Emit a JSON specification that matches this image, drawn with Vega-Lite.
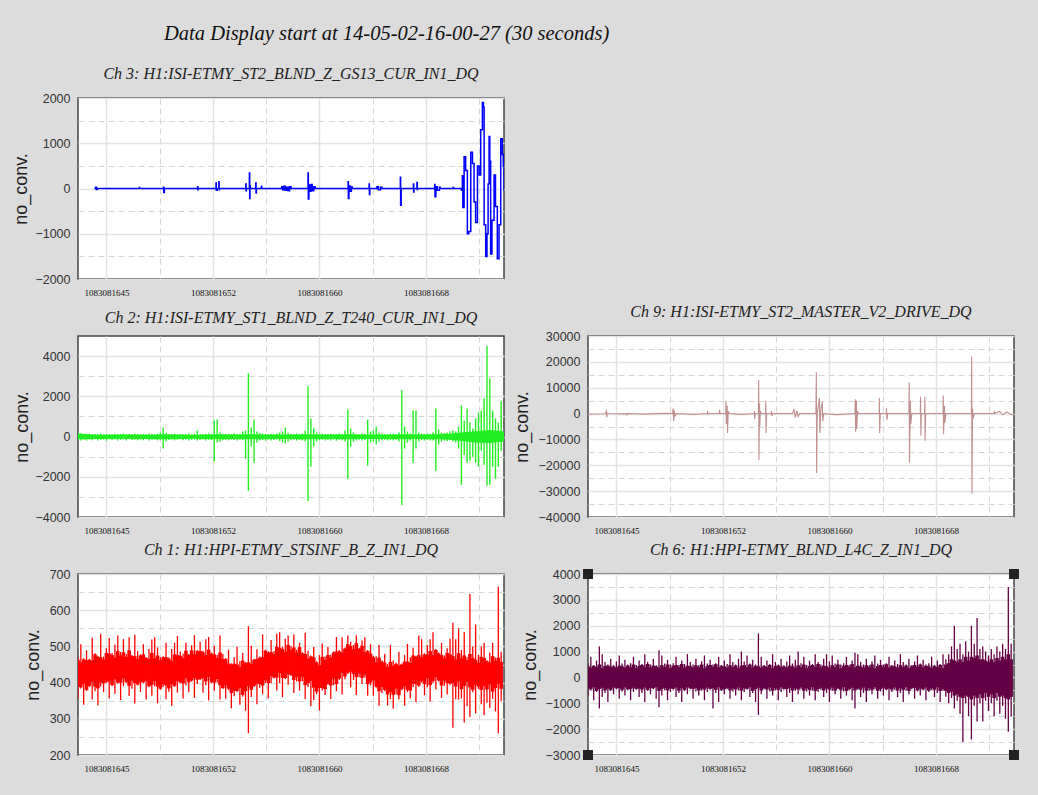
{
"$schema": "https://vega.github.io/schema/vega-lite/v6.json",
"background": "#dcdcdc",
"padding": {"left": 11, "top": 23, "right": 30, "bottom": 24},
"title": {"text": "Data Display start at 14-05-02-16-00-27 (30 seconds)", "fontSize": 20.5, "font": "Liberation Serif", "fontStyle": "italic", "fontWeight": "normal", "color": "#111", "anchor": "start", "frame": "group", "dx": 86, "offset": 21},
"columns": 2,
"bounds": "flush",
"spacing": {"row": 57, "column": 84},
"datasets": {
"ch3": [
{"t":1.15,"v":0},{"t":1.25,"v":30},{"t":1.3,"v":-20},{"t":1.35,"v":0},{"t":4.3,"v":0},{"t":4.32,"v":20},{"t":4.34,"v":0},{"t":6.0,"v":0},{"t":6.02,"v":30},{"t":6.04,"v":-90},{"t":6.08,"v":0},{"t":8.4,"v":0},{"t":8.42,"v":40},{"t":8.44,"v":-30},{"t":8.46,"v":0},{"t":9.7,"v":0},{"t":9.72,"v":120},{"t":9.74,"v":-40},{"t":9.8,"v":0},{"t":9.92,"v":150},{"t":9.94,"v":-30},{"t":9.96,"v":0},{"t":11.8,"v":0},{"t":11.82,"v":100},{"t":11.84,"v":-50},{"t":11.86,"v":0},{"t":12.05,"v":0},{"t":12.07,"v":340},{"t":12.09,"v":-220},{"t":12.11,"v":60},{"t":12.13,"v":0},{"t":12.5,"v":0},{"t":12.52,"v":120},{"t":12.54,"v":-100},{"t":12.56,"v":0},{"t":12.9,"v":0},{"t":12.92,"v":50},{"t":12.94,"v":0},{"t":14.3,"v":0},{"t":14.35,"v":40},{"t":14.4,"v":-30},{"t":14.5,"v":50},{"t":14.6,"v":-40},{"t":14.7,"v":30},{"t":14.8,"v":-50},{"t":14.9,"v":40},{"t":15.0,"v":0},{"t":16.15,"v":0},{"t":16.2,"v":340},{"t":16.22,"v":-230},{"t":16.26,"v":80},{"t":16.3,"v":-60},{"t":16.4,"v":90},{"t":16.5,"v":-50},{"t":16.6,"v":40},{"t":16.7,"v":0},{"t":19.0,"v":0},{"t":19.02,"v":150},{"t":19.04,"v":-220},{"t":19.08,"v":60},{"t":19.15,"v":-60},{"t":19.25,"v":40},{"t":19.3,"v":0},{"t":20.45,"v":0},{"t":20.5,"v":100},{"t":20.52,"v":-130},{"t":20.55,"v":0},{"t":21.0,"v":0},{"t":21.05,"v":40},{"t":21.15,"v":-30},{"t":21.3,"v":30},{"t":21.4,"v":0},{"t":22.65,"v":0},{"t":22.7,"v":250},{"t":22.72,"v":-370},{"t":22.76,"v":0},{"t":23.6,"v":0},{"t":23.62,"v":100},{"t":23.64,"v":-80},{"t":23.66,"v":0},{"t":23.85,"v":0},{"t":23.87,"v":130},{"t":23.89,"v":-20},{"t":23.91,"v":0},{"t":25.1,"v":0},{"t":25.12,"v":90},{"t":25.14,"v":-180},{"t":25.2,"v":40},{"t":25.3,"v":-40},{"t":25.45,"v":30},{"t":25.5,"v":0},{"t":26.4,"v":0},{"t":26.42,"v":20},{"t":26.44,"v":0},{"t":26.95,"v":0},{"t":27.0,"v":-40},{"t":27.04,"v":0},{"t":27.07,"v":280},{"t":27.1,"v":-420},{"t":27.19,"v":700},{"t":27.3,"v":400},{"t":27.42,"v":-1000},{"t":27.52,"v":-950},{"t":27.66,"v":800},{"t":27.78,"v":550},{"t":27.89,"v":-300},{"t":28.0,"v":-750},{"t":28.13,"v":500},{"t":28.25,"v":300},{"t":28.36,"v":1300},{"t":28.48,"v":1900},{"t":28.55,"v":1800},{"t":28.6,"v":-800},{"t":28.71,"v":-1500},{"t":28.8,"v":-1000},{"t":28.88,"v":100},{"t":28.95,"v":1150},{"t":29.0,"v":600},{"t":29.06,"v":-1450},{"t":29.15,"v":-700},{"t":29.3,"v":300},{"t":29.4,"v":-400},{"t":29.53,"v":-1550},{"t":29.65,"v":-800},{"t":29.77,"v":1100},{"t":29.88,"v":750},{"t":29.95,"v":500},{"t":30.0,"v":-50}
],
"ch9": [
{"t":0.0,"v":-200},{"t":1.2,"v":-100},{"t":1.3,"v":1000},{"t":1.32,"v":-1500},{"t":1.36,"v":200},{"t":1.5,"v":0},{"t":2.7,"v":-100},{"t":2.72,"v":-700},{"t":2.75,"v":0},{"t":4.0,"v":-200},{"t":5.5,"v":100},{"t":5.95,"v":0},{"t":6.0,"v":2000},{"t":6.03,"v":-3000},{"t":6.07,"v":1200},{"t":6.12,"v":-1200},{"t":6.2,"v":0},{"t":7.5,"v":-300},{"t":8.4,"v":0},{"t":8.42,"v":1000},{"t":8.44,"v":-200},{"t":8.5,"v":0},{"t":9.25,"v":0},{"t":9.27,"v":1500},{"t":9.3,"v":0},{"t":9.7,"v":0},{"t":9.72,"v":5000},{"t":9.74,"v":-4000},{"t":9.8,"v":3000},{"t":9.83,"v":-7500},{"t":9.87,"v":1000},{"t":9.95,"v":0},{"t":10.8,"v":-300},{"t":11.7,"v":0},{"t":11.72,"v":1000},{"t":11.74,"v":-2000},{"t":11.78,"v":0},{"t":12.0,"v":0},{"t":12.02,"v":13000},{"t":12.04,"v":-18000},{"t":12.08,"v":4000},{"t":12.1,"v":-5000},{"t":12.14,"v":1000},{"t":12.2,"v":0},{"t":12.5,"v":0},{"t":12.52,"v":5000},{"t":12.54,"v":-7500},{"t":12.58,"v":0},{"t":12.9,"v":0},{"t":12.92,"v":1000},{"t":12.95,"v":-1000},{"t":13.0,"v":0},{"t":14.4,"v":0},{"t":14.5,"v":1500},{"t":14.6,"v":-1500},{"t":14.7,"v":1000},{"t":14.8,"v":-1200},{"t":14.9,"v":0},{"t":16.05,"v":0},{"t":16.08,"v":16000},{"t":16.1,"v":-23000},{"t":16.14,"v":0},{"t":16.3,"v":6000},{"t":16.33,"v":-7500},{"t":16.4,"v":1500},{"t":16.5,"v":4500},{"t":16.53,"v":-3000},{"t":16.6,"v":0},{"t":17.5,"v":-400},{"t":18.8,"v":0},{"t":18.82,"v":5500},{"t":18.85,"v":-7000},{"t":18.9,"v":5000},{"t":18.93,"v":-6000},{"t":18.98,"v":1000},{"t":19.05,"v":0},{"t":20.5,"v":0},{"t":20.52,"v":6000},{"t":20.54,"v":-7500},{"t":20.58,"v":0},{"t":21.0,"v":0},{"t":21.02,"v":2000},{"t":21.05,"v":-2500},{"t":21.1,"v":0},{"t":22.6,"v":0},{"t":22.62,"v":12000},{"t":22.64,"v":-19000},{"t":22.7,"v":5000},{"t":22.73,"v":-4000},{"t":22.8,"v":0},{"t":23.4,"v":0},{"t":23.42,"v":6500},{"t":23.44,"v":-8500},{"t":23.48,"v":0},{"t":23.7,"v":0},{"t":23.72,"v":6500},{"t":23.74,"v":-10500},{"t":23.78,"v":0},{"t":25.0,"v":0},{"t":25.02,"v":7000},{"t":25.04,"v":-8000},{"t":25.1,"v":3000},{"t":25.13,"v":-3500},{"t":25.2,"v":0},{"t":27.0,"v":0},{"t":27.02,"v":22000},{"t":27.04,"v":-31000},{"t":27.08,"v":2000},{"t":27.12,"v":-2000},{"t":27.2,"v":0},{"t":28.6,"v":0},{"t":28.62,"v":1000},{"t":28.65,"v":0},{"t":29.0,"v":800},{"t":29.2,"v":-500},{"t":29.5,"v":600},{"t":29.8,"v":-400},{"t":30.0,"v":-300}
],
"ch2core": [
{"t":0,"lo":-130,"hi":150},{"t":1,"lo":-120,"hi":100},{"t":2,"lo":-125,"hi":95},{"t":3,"lo":-115,"hi":105},{"t":4,"lo":-120,"hi":100},{"t":5,"lo":-125,"hi":95},{"t":6,"lo":-130,"hi":110},{"t":7,"lo":-120,"hi":100},{"t":8,"lo":-115,"hi":95},{"t":9,"lo":-120,"hi":100},{"t":10,"lo":-130,"hi":110},{"t":11,"lo":-120,"hi":100},{"t":12,"lo":-140,"hi":120},{"t":13,"lo":-125,"hi":100},{"t":14,"lo":-120,"hi":105},{"t":15,"lo":-120,"hi":100},{"t":16,"lo":-140,"hi":120},{"t":17,"lo":-125,"hi":100},{"t":18,"lo":-120,"hi":100},{"t":19,"lo":-135,"hi":115},{"t":20,"lo":-120,"hi":100},{"t":21,"lo":-125,"hi":105},{"t":22,"lo":-120,"hi":100},{"t":23,"lo":-135,"hi":115},{"t":24,"lo":-120,"hi":100},{"t":25,"lo":-130,"hi":110},{"t":26,"lo":-150,"hi":130},{"t":27,"lo":-220,"hi":200},{"t":28,"lo":-300,"hi":260},{"t":29,"lo":-320,"hi":320},{"t":30,"lo":-250,"hi":250}
],
"ch2": [
{"t":0.0,"lo":-170,"hi":180},{"t":0.2,"lo":-190,"hi":170},{"t":0.4,"lo":-160,"hi":130},{"t":0.6,"lo":-200,"hi":110},{"t":0.8,"lo":-150,"hi":140},{"t":1.0,"lo":-180,"hi":100},{"t":1.2,"lo":-140,"hi":120},{"t":1.4,"lo":-190,"hi":110},{"t":1.6,"lo":-160,"hi":150},{"t":1.8,"lo":-150,"hi":100},{"t":2.0,"lo":-200,"hi":120},{"t":2.2,"lo":-140,"hi":130},{"t":2.4,"lo":-170,"hi":100},{"t":2.6,"lo":-150,"hi":140},{"t":2.8,"lo":-190,"hi":110},{"t":3.0,"lo":-160,"hi":120},{"t":3.2,"lo":-150,"hi":150},{"t":3.4,"lo":-200,"hi":100},{"t":3.6,"lo":-140,"hi":130},{"t":3.8,"lo":-170,"hi":110},{"t":4.0,"lo":-160,"hi":140},{"t":4.2,"lo":-190,"hi":120},{"t":4.4,"lo":-150,"hi":100},{"t":4.6,"lo":-180,"hi":130},{"t":4.8,"lo":-140,"hi":110},{"t":5.0,"lo":-200,"hi":150},{"t":5.2,"lo":-160,"hi":120},{"t":5.4,"lo":-150,"hi":100},{"t":5.6,"lo":-190,"hi":140},{"t":5.8,"lo":-170,"hi":200},{"t":6.0,"lo":-600,"hi":450},{"t":6.2,"lo":-250,"hi":180},{"t":6.4,"lo":-170,"hi":120},{"t":6.6,"lo":-150,"hi":110},{"t":6.8,"lo":-190,"hi":140},{"t":7.0,"lo":-160,"hi":100},{"t":7.2,"lo":-140,"hi":130},{"t":7.4,"lo":-180,"hi":120},{"t":7.6,"lo":-150,"hi":110},{"t":7.8,"lo":-200,"hi":150},{"t":8.0,"lo":-160,"hi":100},{"t":8.2,"lo":-150,"hi":140},{"t":8.4,"lo":-200,"hi":300},{"t":8.6,"lo":-170,"hi":120},{"t":8.8,"lo":-150,"hi":110},{"t":9.0,"lo":-190,"hi":130},{"t":9.2,"lo":-160,"hi":150},{"t":9.4,"lo":-180,"hi":120},{"t":9.6,"lo":-1230,"hi":800},{"t":9.8,"lo":-300,"hi":850},{"t":10.0,"lo":-250,"hi":200},{"t":10.2,"lo":-180,"hi":130},{"t":10.4,"lo":-160,"hi":110},{"t":10.6,"lo":-190,"hi":140},{"t":10.8,"lo":-150,"hi":120},{"t":11.0,"lo":-170,"hi":160},{"t":11.2,"lo":-200,"hi":130},{"t":11.4,"lo":-160,"hi":110},{"t":11.6,"lo":-180,"hi":250},{"t":11.8,"lo":-1100,"hi":300},{"t":12.0,"lo":-2700,"hi":3150},{"t":12.2,"lo":-500,"hi":450},{"t":12.4,"lo":-1300,"hi":850},{"t":12.6,"lo":-300,"hi":250},{"t":12.8,"lo":-200,"hi":180},{"t":13.0,"lo":-180,"hi":150},{"t":13.2,"lo":-200,"hi":130},{"t":13.4,"lo":-160,"hi":120},{"t":13.6,"lo":-190,"hi":140},{"t":13.8,"lo":-170,"hi":110},{"t":14.0,"lo":-150,"hi":150},{"t":14.2,"lo":-220,"hi":200},{"t":14.4,"lo":-300,"hi":250},{"t":14.6,"lo":-350,"hi":450},{"t":14.8,"lo":-250,"hi":180},{"t":15.0,"lo":-180,"hi":130},{"t":15.2,"lo":-160,"hi":120},{"t":15.4,"lo":-200,"hi":150},{"t":15.6,"lo":-170,"hi":110},{"t":15.8,"lo":-190,"hi":140},{"t":16.0,"lo":-250,"hi":300},{"t":16.2,"lo":-3200,"hi":2500},{"t":16.4,"lo":-1500,"hi":900},{"t":16.6,"lo":-500,"hi":400},{"t":16.8,"lo":-250,"hi":200},{"t":17.0,"lo":-180,"hi":130},{"t":17.2,"lo":-160,"hi":150},{"t":17.4,"lo":-200,"hi":120},{"t":17.6,"lo":-170,"hi":110},{"t":17.8,"lo":-190,"hi":140},{"t":18.0,"lo":-150,"hi":130},{"t":18.2,"lo":-200,"hi":120},{"t":18.4,"lo":-160,"hi":150},{"t":18.6,"lo":-180,"hi":110},{"t":18.8,"lo":-250,"hi":300},{"t":19.0,"lo":-2100,"hi":1350},{"t":19.2,"lo":-500,"hi":400},{"t":19.4,"lo":-250,"hi":200},{"t":19.6,"lo":-180,"hi":130},{"t":19.8,"lo":-160,"hi":120},{"t":20.0,"lo":-200,"hi":150},{"t":20.2,"lo":-170,"hi":130},{"t":20.4,"lo":-1450,"hi":850},{"t":20.6,"lo":-300,"hi":250},{"t":20.8,"lo":-250,"hi":300},{"t":21.0,"lo":-400,"hi":500},{"t":21.2,"lo":-250,"hi":200},{"t":21.4,"lo":-180,"hi":150},{"t":21.6,"lo":-160,"hi":130},{"t":21.8,"lo":-200,"hi":120},{"t":22.0,"lo":-170,"hi":150},{"t":22.2,"lo":-190,"hi":140},{"t":22.4,"lo":-160,"hi":130},{"t":22.6,"lo":-250,"hi":200},{"t":22.8,"lo":-3400,"hi":2300},{"t":23.0,"lo":-600,"hi":500},{"t":23.2,"lo":-300,"hi":250},{"t":23.4,"lo":-200,"hi":150},{"t":23.6,"lo":-1300,"hi":1300},{"t":23.8,"lo":-600,"hi":1300},{"t":24.0,"lo":-250,"hi":200},{"t":24.2,"lo":-180,"hi":150},{"t":24.4,"lo":-200,"hi":130},{"t":24.6,"lo":-160,"hi":150},{"t":24.8,"lo":-190,"hi":140},{"t":25.0,"lo":-200,"hi":200},{"t":25.2,"lo":-1700,"hi":1400},{"t":25.4,"lo":-400,"hi":350},{"t":25.6,"lo":-250,"hi":200},{"t":25.8,"lo":-200,"hi":180},{"t":26.0,"lo":-220,"hi":200},{"t":26.2,"lo":-180,"hi":250},{"t":26.4,"lo":-250,"hi":300},{"t":26.6,"lo":-300,"hi":250},{"t":26.8,"lo":-600,"hi":500},{"t":27.0,"lo":-2400,"hi":1550},{"t":27.2,"lo":-900,"hi":800},{"t":27.4,"lo":-1300,"hi":1400},{"t":27.6,"lo":-1200,"hi":700},{"t":27.8,"lo":-1000,"hi":400},{"t":28.0,"lo":-1300,"hi":900},{"t":28.2,"lo":-1500,"hi":1200},{"t":28.4,"lo":-700,"hi":1300},{"t":28.6,"lo":-1400,"hi":1900},{"t":28.8,"lo":-2450,"hi":4500},{"t":29.0,"lo":-2400,"hi":2900},{"t":29.2,"lo":-1500,"hi":1300},{"t":29.4,"lo":-2100,"hi":900},{"t":29.6,"lo":-1500,"hi":700},{"t":29.8,"lo":-700,"hi":1750}
],
"ch1": [
{"t":0.0,"lo":355,"hi":470,"a":390,"b":463},{"t":0.2,"lo":384,"hi":506,"a":387,"b":456},{"t":0.4,"lo":339,"hi":467,"a":397,"b":464},{"t":0.6,"lo":377,"hi":489,"a":380,"b":462},{"t":0.8,"lo":388,"hi":466,"a":391,"b":463},{"t":1.0,"lo":353,"hi":524,"a":401,"b":461},{"t":1.2,"lo":376,"hi":481,"a":389,"b":478},{"t":1.4,"lo":337,"hi":474,"a":384,"b":471},{"t":1.6,"lo":389,"hi":535,"a":401,"b":470},{"t":1.8,"lo":374,"hi":472,"a":398,"b":464},{"t":2.0,"lo":399,"hi":495,"a":402,"b":482},{"t":2.2,"lo":356,"hi":523,"a":403,"b":480},{"t":2.4,"lo":390,"hi":482,"a":393,"b":476},{"t":2.6,"lo":369,"hi":505,"a":409,"b":469},{"t":2.8,"lo":397,"hi":530,"a":400,"b":487},{"t":3.0,"lo":352,"hi":485,"a":400,"b":475},{"t":3.2,"lo":390,"hi":520,"a":412,"b":484},{"t":3.4,"lo":399,"hi":479,"a":402,"b":471},{"t":3.6,"lo":363,"hi":525,"a":391,"b":489},{"t":3.8,"lo":383,"hi":476,"a":405,"b":473},{"t":4.0,"lo":342,"hi":532,"a":399,"b":473},{"t":4.2,"lo":392,"hi":487,"a":395,"b":465},{"t":4.4,"lo":374,"hi":478,"a":401,"b":475},{"t":4.6,"lo":398,"hi":506,"a":401,"b":478},{"t":4.8,"lo":353,"hi":471,"a":405,"b":468},{"t":5.0,"lo":387,"hi":493,"a":390,"b":465},{"t":5.2,"lo":364,"hi":519,"a":394,"b":482},{"t":5.4,"lo":390,"hi":525,"a":404,"b":467},{"t":5.6,"lo":343,"hi":497,"a":389,"b":475},{"t":5.8,"lo":380,"hi":470,"a":383,"b":462},{"t":6.0,"lo":388,"hi":473,"a":395,"b":470},{"t":6.2,"lo":354,"hi":510,"a":392,"b":470},{"t":6.4,"lo":375,"hi":470,"a":384,"b":466},{"t":6.6,"lo":336,"hi":493,"a":396,"b":459},{"t":6.8,"lo":388,"hi":510,"a":391,"b":478},{"t":7.0,"lo":372,"hi":529,"a":404,"b":476},{"t":7.2,"lo":398,"hi":486,"a":401,"b":474},{"t":7.4,"lo":356,"hi":480,"a":398,"b":468},{"t":7.6,"lo":392,"hi":510,"a":412,"b":488},{"t":7.8,"lo":373,"hi":479,"a":401,"b":476},{"t":8.0,"lo":403,"hi":503,"a":406,"b":489},{"t":8.2,"lo":358,"hi":531,"a":413,"b":478},{"t":8.4,"lo":396,"hi":490,"a":408,"b":487},{"t":8.6,"lo":407,"hi":513,"a":410,"b":487},{"t":8.8,"lo":372,"hi":488,"a":413,"b":484},{"t":9.0,"lo":393,"hi":520,"a":403,"b":476},{"t":9.2,"lo":351,"hi":526,"a":416,"b":491},{"t":9.4,"lo":398,"hi":483,"a":401,"b":480},{"t":9.6,"lo":378,"hi":502,"a":400,"b":478},{"t":9.8,"lo":400,"hi":476,"a":410,"b":468},{"t":10.0,"lo":353,"hi":530,"a":393,"b":483},{"t":10.2,"lo":382,"hi":480,"a":385,"b":465},{"t":10.4,"lo":356,"hi":468,"a":393,"b":465},{"t":10.6,"lo":379,"hi":491,"a":383,"b":453},{"t":10.8,"lo":329,"hi":453,"a":371,"b":450},{"t":11.0,"lo":362,"hi":470,"a":377,"b":452},{"t":11.2,"lo":374,"hi":499,"a":377,"b":450},{"t":11.4,"lo":339,"hi":459,"a":385,"b":443},{"t":11.6,"lo":361,"hi":482,"a":366,"b":461},{"t":11.8,"lo":322,"hi":457,"a":377,"b":454},{"t":12.0,"lo":260,"hi":556,"a":390,"b":456},{"t":12.2,"lo":360,"hi":502,"a":380,"b":452},{"t":12.4,"lo":388,"hi":466,"a":391,"b":463},{"t":12.6,"lo":340,"hi":492,"a":397,"b":465},{"t":12.8,"lo":386,"hi":472,"a":396,"b":469},{"t":13.0,"lo":368,"hi":533,"a":392,"b":470},{"t":13.2,"lo":399,"hi":491,"a":406,"b":488},{"t":13.4,"lo":356,"hi":486,"a":399,"b":483},{"t":13.6,"lo":398,"hi":518,"a":418,"b":484},{"t":13.8,"lo":411,"hi":487,"a":414,"b":479},{"t":14.0,"lo":378,"hi":535,"a":414,"b":499},{"t":14.2,"lo":399,"hi":539,"a":426,"b":496},{"t":14.4,"lo":360,"hi":499,"a":413,"b":493},{"t":14.6,"lo":410,"hi":521,"a":413,"b":485},{"t":14.8,"lo":394,"hi":530,"a":423,"b":504},{"t":15.0,"lo":418,"hi":501,"a":421,"b":491},{"t":15.2,"lo":371,"hi":533,"a":407,"b":497},{"t":15.4,"lo":403,"hi":491,"a":416,"b":483},{"t":15.6,"lo":378,"hi":510,"a":403,"b":498},{"t":15.8,"lo":404,"hi":484,"a":416,"b":481},{"t":16.0,"lo":355,"hi":538,"a":393,"b":479},{"t":16.2,"lo":388,"hi":488,"a":398,"b":466},{"t":16.4,"lo":335,"hi":475,"a":405,"b":472},{"t":16.6,"lo":352,"hi":498,"a":386,"b":470},{"t":16.8,"lo":368,"hi":459,"a":375,"b":456},{"t":17.0,"lo":323,"hi":476,"a":385,"b":448},{"t":17.2,"lo":378,"hi":508,"a":385,"b":471},{"t":17.4,"lo":366,"hi":472,"a":382,"b":463},{"t":17.6,"lo":394,"hi":498,"a":397,"b":476},{"t":17.8,"lo":355,"hi":477,"a":392,"b":469},{"t":18.0,"lo":393,"hi":486,"a":411,"b":483},{"t":18.2,"lo":376,"hi":526,"a":396,"b":486},{"t":18.4,"lo":408,"hi":490,"a":411,"b":486},{"t":18.6,"lo":367,"hi":525,"a":427,"b":483},{"t":18.8,"lo":409,"hi":497,"a":417,"b":494},{"t":19.0,"lo":424,"hi":530,"a":427,"b":506},{"t":19.2,"lo":387,"hi":513,"a":430,"b":501},{"t":19.4,"lo":407,"hi":504,"a":424,"b":492},{"t":19.6,"lo":366,"hi":531,"a":415,"b":509},{"t":19.8,"lo":415,"hi":496,"a":425,"b":493},{"t":20.0,"lo":396,"hi":516,"a":413,"b":502},{"t":20.2,"lo":414,"hi":525,"a":422,"b":484},{"t":20.4,"lo":364,"hi":490,"a":396,"b":487},{"t":20.6,"lo":392,"hi":506,"a":400,"b":480},{"t":20.8,"lo":364,"hi":474,"a":406,"b":470},{"t":21.0,"lo":386,"hi":473,"a":389,"b":456},{"t":21.2,"lo":336,"hi":504,"a":376,"b":469},{"t":21.4,"lo":371,"hi":461,"a":388,"b":458},{"t":21.6,"lo":377,"hi":479,"a":380,"b":455},{"t":21.8,"lo":337,"hi":451,"a":367,"b":443},{"t":22.0,"lo":354,"hi":504,"a":374,"b":457},{"t":22.2,"lo":328,"hi":461,"a":366,"b":446},{"t":22.4,"lo":368,"hi":455,"a":383,"b":452},{"t":22.6,"lo":353,"hi":485,"a":365,"b":447},{"t":22.8,"lo":379,"hi":453,"a":382,"b":450},{"t":23.0,"lo":336,"hi":476,"a":390,"b":458},{"t":23.2,"lo":374,"hi":507,"a":380,"b":458},{"t":23.4,"lo":356,"hi":470,"a":378,"b":454},{"t":23.6,"lo":388,"hi":496,"a":397,"b":475},{"t":23.8,"lo":346,"hi":474,"a":396,"b":471},{"t":24.0,"lo":388,"hi":530,"a":392,"b":476},{"t":24.2,"lo":400,"hi":520,"a":405,"b":470},{"t":24.4,"lo":365,"hi":481,"a":396,"b":478},{"t":24.6,"lo":387,"hi":504,"a":412,"b":477},{"t":24.8,"lo":348,"hi":520,"a":393,"b":487},{"t":25.0,"lo":399,"hi":539,"a":404,"b":476},{"t":25.2,"lo":381,"hi":493,"a":415,"b":490},{"t":25.4,"lo":403,"hi":483,"a":406,"b":480},{"t":25.6,"lo":358,"hi":510,"a":392,"b":476},{"t":25.8,"lo":391,"hi":475,"a":406,"b":467},{"t":26.0,"lo":367,"hi":495,"a":399,"b":482},{"t":26.2,"lo":394,"hi":521,"a":397,"b":478},{"t":26.4,"lo":275,"hi":565,"a":400,"b":473},{"t":26.6,"lo":354,"hi":520,"a":389,"b":464},{"t":26.8,"lo":353,"hi":550,"a":403,"b":481},{"t":27.0,"lo":356,"hi":490,"a":382,"b":467},{"t":27.2,"lo":290,"hi":540,"a":391,"b":475},{"t":27.4,"lo":335,"hi":470,"a":402,"b":462},{"t":27.6,"lo":305,"hi":645,"a":387,"b":479},{"t":27.8,"lo":373,"hi":500,"a":380,"b":468},{"t":28.0,"lo":315,"hi":560,"a":394,"b":463},{"t":28.2,"lo":382,"hi":477,"a":389,"b":455},{"t":28.4,"lo":340,"hi":500,"a":380,"b":471},{"t":28.6,"lo":310,"hi":510,"a":391,"b":468},{"t":28.8,"lo":344,"hi":462,"a":381,"b":459},{"t":29.0,"lo":330,"hi":483,"a":395,"b":455},{"t":29.2,"lo":355,"hi":510,"a":375,"b":473},{"t":29.4,"lo":320,"hi":469,"a":385,"b":460},{"t":29.6,"lo":260,"hi":665,"a":397,"b":469},{"t":29.8,"lo":350,"hi":485,"a":383,"b":457}
],
"ch6": [
{"t":0.0,"lo":-700,"hi":550,"a":-420,"b":430},{"t":0.2,"lo":-500,"hi":800,"a":-460,"b":380},{"t":0.4,"lo":-880,"hi":480,"a":-380,"b":440},{"t":0.6,"lo":-560,"hi":650,"a":-520,"b":400},{"t":0.8,"lo":-1200,"hi":1200,"a":-450,"b":500},{"t":1.0,"lo":-760,"hi":900,"a":-400,"b":360},{"t":1.2,"lo":-600,"hi":600,"a":-500,"b":440},{"t":1.4,"lo":-950,"hi":500,"a":-430,"b":460},{"t":1.6,"lo":-520,"hi":720,"a":-480,"b":410},{"t":1.8,"lo":-650,"hi":470,"a":-390,"b":430},{"t":2.0,"lo":-460,"hi":620,"a":-420,"b":390},{"t":2.2,"lo":-820,"hi":850,"a":-420,"b":450},{"t":2.4,"lo":-540,"hi":540,"a":-480,"b":430},{"t":2.6,"lo":-700,"hi":680,"a":-380,"b":380},{"t":2.8,"lo":-500,"hi":500,"a":-460,"b":460},{"t":3.0,"lo":-880,"hi":550,"a":-450,"b":400},{"t":3.2,"lo":-560,"hi":800,"a":-400,"b":500},{"t":3.4,"lo":-480,"hi":480,"a":-440,"b":360},{"t":3.6,"lo":-760,"hi":650,"a":-430,"b":440},{"t":3.8,"lo":-600,"hi":520,"a":-470,"b":480},{"t":4.0,"lo":-950,"hi":900,"a":-390,"b":410},{"t":4.2,"lo":-520,"hi":600,"a":-480,"b":520},{"t":4.4,"lo":-650,"hi":500,"a":-420,"b":390},{"t":4.6,"lo":-460,"hi":720,"a":-420,"b":450},{"t":4.8,"lo":-820,"hi":470,"a":-380,"b":430},{"t":5.0,"lo":-1150,"hi":1050,"a":-520,"b":380},{"t":5.2,"lo":-700,"hi":850,"a":-450,"b":470},{"t":5.4,"lo":-500,"hi":540,"a":-400,"b":400},{"t":5.6,"lo":-880,"hi":680,"a":-500,"b":500},{"t":5.8,"lo":-560,"hi":500,"a":-430,"b":360},{"t":6.0,"lo":-480,"hi":550,"a":-440,"b":440},{"t":6.2,"lo":-760,"hi":800,"a":-390,"b":480},{"t":6.4,"lo":-600,"hi":480,"a":-510,"b":410},{"t":6.6,"lo":-950,"hi":650,"a":-420,"b":520},{"t":6.8,"lo":-520,"hi":520,"a":-480,"b":390},{"t":7.0,"lo":-650,"hi":900,"a":-380,"b":450},{"t":7.2,"lo":-460,"hi":600,"a":-420,"b":430},{"t":7.4,"lo":-820,"hi":500,"a":-450,"b":380},{"t":7.6,"lo":-540,"hi":720,"a":-400,"b":470},{"t":7.8,"lo":-700,"hi":470,"a":-500,"b":400},{"t":8.0,"lo":-500,"hi":620,"a":-430,"b":500},{"t":8.2,"lo":-880,"hi":850,"a":-470,"b":360},{"t":8.4,"lo":-560,"hi":540,"a":-390,"b":440},{"t":8.6,"lo":-480,"hi":680,"a":-440,"b":480},{"t":8.8,"lo":-1200,"hi":500,"a":-420,"b":410},{"t":9.0,"lo":-600,"hi":550,"a":-480,"b":510},{"t":9.2,"lo":-950,"hi":800,"a":-380,"b":390},{"t":9.4,"lo":-520,"hi":480,"a":-480,"b":440},{"t":9.6,"lo":-650,"hi":650,"a":-450,"b":430},{"t":9.8,"lo":-460,"hi":520,"a":-400,"b":380},{"t":10.0,"lo":-820,"hi":900,"a":-500,"b":470},{"t":10.2,"lo":-540,"hi":600,"a":-430,"b":400},{"t":10.4,"lo":-700,"hi":500,"a":-470,"b":460},{"t":10.6,"lo":-500,"hi":720,"a":-390,"b":360},{"t":10.8,"lo":-880,"hi":1000,"a":-510,"b":440},{"t":11.0,"lo":-560,"hi":620,"a":-420,"b":480},{"t":11.2,"lo":-480,"hi":850,"a":-440,"b":410},{"t":11.4,"lo":-760,"hi":540,"a":-380,"b":500},{"t":11.6,"lo":-600,"hi":680,"a":-520,"b":390},{"t":11.8,"lo":-950,"hi":500,"a":-450,"b":450},{"t":12.0,"lo":-1450,"hi":1700,"a":-400,"b":430},{"t":12.2,"lo":-650,"hi":800,"a":-500,"b":380},{"t":12.4,"lo":-460,"hi":480,"a":-420,"b":440},{"t":12.6,"lo":-820,"hi":650,"a":-470,"b":400},{"t":12.8,"lo":-540,"hi":520,"a":-390,"b":480},{"t":13.0,"lo":-700,"hi":900,"a":-510,"b":360},{"t":13.2,"lo":-500,"hi":600,"a":-420,"b":440},{"t":13.4,"lo":-880,"hi":500,"a":-480,"b":460},{"t":13.6,"lo":-560,"hi":720,"a":-380,"b":410},{"t":13.8,"lo":-480,"hi":470,"a":-440,"b":430},{"t":14.0,"lo":-760,"hi":620,"a":-450,"b":390},{"t":14.2,"lo":-600,"hi":850,"a":-400,"b":450},{"t":14.4,"lo":-950,"hi":540,"a":-500,"b":430},{"t":14.6,"lo":-520,"hi":680,"a":-430,"b":380},{"t":14.8,"lo":-650,"hi":1000,"a":-470,"b":470},{"t":15.0,"lo":-460,"hi":550,"a":-390,"b":400},{"t":15.2,"lo":-820,"hi":800,"a":-510,"b":500},{"t":15.4,"lo":-540,"hi":480,"a":-420,"b":360},{"t":15.6,"lo":-700,"hi":650,"a":-480,"b":440},{"t":15.8,"lo":-500,"hi":520,"a":-380,"b":480},{"t":16.0,"lo":-880,"hi":900,"a":-520,"b":410},{"t":16.2,"lo":-560,"hi":600,"a":-450,"b":520},{"t":16.4,"lo":-480,"hi":500,"a":-400,"b":390},{"t":16.6,"lo":-760,"hi":720,"a":-500,"b":450},{"t":16.8,"lo":-600,"hi":900,"a":-430,"b":430},{"t":17.0,"lo":-950,"hi":620,"a":-470,"b":380},{"t":17.2,"lo":-520,"hi":850,"a":-390,"b":470},{"t":17.4,"lo":-650,"hi":540,"a":-510,"b":400},{"t":17.6,"lo":-460,"hi":680,"a":-420,"b":500},{"t":17.8,"lo":-820,"hi":500,"a":-480,"b":360},{"t":18.0,"lo":-540,"hi":550,"a":-380,"b":440},{"t":18.2,"lo":-700,"hi":800,"a":-520,"b":480},{"t":18.4,"lo":-500,"hi":480,"a":-450,"b":410},{"t":18.6,"lo":-880,"hi":650,"a":-400,"b":520},{"t":18.8,"lo":-1200,"hi":950,"a":-500,"b":390},{"t":19.0,"lo":-480,"hi":900,"a":-430,"b":450},{"t":19.2,"lo":-760,"hi":600,"a":-470,"b":430},{"t":19.4,"lo":-600,"hi":500,"a":-390,"b":380},{"t":19.6,"lo":-950,"hi":720,"a":-510,"b":470},{"t":19.8,"lo":-520,"hi":470,"a":-420,"b":400},{"t":20.0,"lo":-650,"hi":620,"a":-480,"b":500},{"t":20.2,"lo":-460,"hi":850,"a":-380,"b":360},{"t":20.4,"lo":-820,"hi":540,"a":-520,"b":440},{"t":20.6,"lo":-540,"hi":680,"a":-450,"b":480},{"t":20.8,"lo":-700,"hi":500,"a":-400,"b":410},{"t":21.0,"lo":-500,"hi":550,"a":-460,"b":510},{"t":21.2,"lo":-880,"hi":800,"a":-430,"b":390},{"t":21.4,"lo":-560,"hi":480,"a":-470,"b":440},{"t":21.6,"lo":-480,"hi":650,"a":-390,"b":430},{"t":21.8,"lo":-760,"hi":520,"a":-510,"b":380},{"t":22.0,"lo":-600,"hi":900,"a":-420,"b":470},{"t":22.2,"lo":-950,"hi":600,"a":-480,"b":400},{"t":22.4,"lo":-520,"hi":500,"a":-380,"b":460},{"t":22.6,"lo":-650,"hi":720,"a":-520,"b":360},{"t":22.8,"lo":-460,"hi":470,"a":-420,"b":430},{"t":23.0,"lo":-820,"hi":620,"a":-400,"b":480},{"t":23.2,"lo":-540,"hi":850,"a":-500,"b":410},{"t":23.4,"lo":-700,"hi":540,"a":-430,"b":500},{"t":23.6,"lo":-500,"hi":680,"a":-460,"b":390},{"t":23.8,"lo":-880,"hi":500,"a":-390,"b":450},{"t":24.0,"lo":-560,"hi":550,"a":-510,"b":430},{"t":24.2,"lo":-480,"hi":800,"a":-420,"b":380},{"t":24.4,"lo":-760,"hi":480,"a":-480,"b":440},{"t":24.6,"lo":-600,"hi":650,"a":-380,"b":400},{"t":24.8,"lo":-950,"hi":520,"a":-520,"b":480},{"t":25.0,"lo":-520,"hi":900,"a":-450,"b":360},{"t":25.2,"lo":-750,"hi":700,"a":-520,"b":500},{"t":25.4,"lo":-1000,"hi":900,"a":-600,"b":550},{"t":25.6,"lo":-800,"hi":1200,"a":-550,"b":700},{"t":25.8,"lo":-1200,"hi":2000,"a":-700,"b":650},{"t":26.0,"lo":-900,"hi":1100,"a":-650,"b":600},{"t":26.2,"lo":-1400,"hi":1300,"a":-750,"b":700},{"t":26.4,"lo":-2500,"hi":900,"a":-800,"b":600},{"t":26.6,"lo":-1000,"hi":1400,"a":-700,"b":800},{"t":26.8,"lo":-1500,"hi":1000,"a":-750,"b":650},{"t":27.0,"lo":-2400,"hi":2000,"a":-850,"b":800},{"t":27.2,"lo":-1100,"hi":1300,"a":-700,"b":750},{"t":27.4,"lo":-1700,"hi":2300,"a":-800,"b":850},{"t":27.6,"lo":-1000,"hi":1100,"a":-650,"b":700},{"t":27.8,"lo":-1700,"hi":1200,"a":-800,"b":700},{"t":28.0,"lo":-900,"hi":1000,"a":-600,"b":650},{"t":28.2,"lo":-1300,"hi":850,"a":-750,"b":600},{"t":28.4,"lo":-1000,"hi":1100,"a":-650,"b":700},{"t":28.6,"lo":-1500,"hi":900,"a":-800,"b":600},{"t":28.8,"lo":-900,"hi":1200,"a":-600,"b":750},{"t":29.0,"lo":-1400,"hi":1000,"a":-750,"b":650},{"t":29.2,"lo":-1100,"hi":1300,"a":-700,"b":800},{"t":29.4,"lo":-1600,"hi":1100,"a":-800,"b":700},{"t":29.6,"lo":-2100,"hi":3500,"a":-850,"b":900},{"t":29.8,"lo":-1500,"hi":1300,"a":-750,"b":700}
],
"corners": [{"t":0,"v":4000},{"t":30,"v":4000},{"t":0,"v":-3000},{"t":30,"v":-3000}]
},
"concat": [
{
"width": 426, "height": 181,
"title": "Ch 3: H1:ISI-ETMY_ST2_BLND_Z_GS13_CUR_IN1_DQ",
"data": {"name": "ch3"},
"mark": {"type": "line", "color": "#0000ff", "strokeWidth": 1.5, "interpolate": "step-after", "clip": true},
"encoding": {
"x": {"field": "t", "type": "quantitative", "scale": {"domain": [0, 30], "nice": false, "zero": false}, "axis": {"title": null, "values": [2, 5.75, 9.5, 13.25, 17, 20.75, 24.5, 28.25], "labelExpr": "datum.value == 2 ? '1083081645' : datum.value == 9.5 ? '1083081652' : datum.value == 17 ? '1083081660' : datum.value == 24.5 ? '1083081668' : ''", "gridDash": {"condition": {"test": "(datum.value - 2) % 7.5 != 0", "value": [6, 4]}, "value": []}, "gridColor": {"condition": {"test": "(datum.value - 2) % 7.5 != 0", "value": "#d6d6d6"}, "value": "#e3e3e3"}, "gridWidth": {"condition": {"test": "(datum.value - 2) % 7.5 != 0", "value": 1}, "value": 1.5}}},
"y": {"field": "v", "type": "quantitative", "scale": {"domain": [-2000, 2000], "nice": false, "zero": false}, "axis": {"title": "no_conv.", "titleX": -57, "titleBaseline": "middle", "format": "d", "values": [-2000, -1500, -1000, -500, 0, 500, 1000, 1500, 2000], "labelExpr": "datum.value % 1000 ? '' : datum.label", "gridDash": {"condition": {"test": "datum.value % 1000 != 0", "value": [6, 4]}, "value": []}, "gridColor": {"condition": {"test": "datum.value % 1000 != 0", "value": "#d6d6d6"}, "value": "#e3e3e3"}, "gridWidth": {"condition": {"test": "datum.value % 1000 != 0", "value": 1}, "value": 1.5}}}
}
},
{
"width": 426, "height": 181,
"data": {"values": []},
"mark": "point",
"view": {"fill": null, "stroke": null}
},
{
"width": 426, "height": 181,
"title": "Ch 2: H1:ISI-ETMY_ST1_BLND_Z_T240_CUR_IN1_DQ",
"encoding": {
"x": {"field": "t", "type": "quantitative", "scale": {"domain": [0, 30], "nice": false, "zero": false}, "axis": {"title": null, "values": [2, 5.75, 9.5, 13.25, 17, 20.75, 24.5, 28.25], "labelExpr": "datum.value == 2 ? '1083081645' : datum.value == 9.5 ? '1083081652' : datum.value == 17 ? '1083081660' : datum.value == 24.5 ? '1083081668' : ''", "gridDash": {"condition": {"test": "(datum.value - 2) % 7.5 != 0", "value": [6, 4]}, "value": []}, "gridColor": {"condition": {"test": "(datum.value - 2) % 7.5 != 0", "value": "#d6d6d6"}, "value": "#e3e3e3"}, "gridWidth": {"condition": {"test": "(datum.value - 2) % 7.5 != 0", "value": 1}, "value": 1.5}}},
"y": {"field": "lo", "type": "quantitative", "scale": {"domain": [-4000, 5000], "nice": false, "zero": false}, "axis": {"title": "no_conv.", "titleX": -56, "titleBaseline": "middle", "format": "d", "values": [-4000, -3000, -2000, -1000, 0, 1000, 2000, 3000, 4000], "labelExpr": "datum.value % 2000 ? '' : datum.label", "gridDash": {"condition": {"test": "datum.value % 2000 != 0", "value": [6, 4]}, "value": []}, "gridColor": {"condition": {"test": "datum.value % 2000 != 0", "value": "#d6d6d6"}, "value": "#e3e3e3"}, "gridWidth": {"condition": {"test": "datum.value % 2000 != 0", "value": 1}, "value": 1.5}}},
"y2": {"field": "hi"}
},
"layer": [
{"data": {"name": "ch2core"}, "mark": {"type": "area", "color": "#22ee22", "opacity": 1, "clip": true}},
{"data": {"name": "ch2"}, "mark": {"type": "rule", "color": "#22ee22", "strokeWidth": 1.4, "clip": true}}
]
},
{
"width": 426, "height": 181,
"title": "Ch 9: H1:ISI-ETMY_ST2_MASTER_V2_DRIVE_DQ",
"data": {"name": "ch9"},
"mark": {"type": "line", "color": "#c09090", "strokeWidth": 1.1, "clip": true},
"encoding": {
"x": {"field": "t", "type": "quantitative", "scale": {"domain": [0, 30], "nice": false, "zero": false}, "axis": {"title": null, "values": [2, 5.75, 9.5, 13.25, 17, 20.75, 24.5, 28.25], "labelExpr": "datum.value == 2 ? '1083081645' : datum.value == 9.5 ? '1083081652' : datum.value == 17 ? '1083081660' : datum.value == 24.5 ? '1083081668' : ''", "gridDash": {"condition": {"test": "(datum.value - 2) % 7.5 != 0", "value": [6, 4]}, "value": []}, "gridColor": {"condition": {"test": "(datum.value - 2) % 7.5 != 0", "value": "#d6d6d6"}, "value": "#e3e3e3"}, "gridWidth": {"condition": {"test": "(datum.value - 2) % 7.5 != 0", "value": 1}, "value": 1.5}}},
"y": {"field": "v", "type": "quantitative", "scale": {"domain": [-40000, 30000], "nice": false, "zero": false}, "axis": {"title": "no_conv.", "titleX": -66, "titleBaseline": "middle", "format": "d", "values": [-40000, -35000, -30000, -25000, -20000, -15000, -10000, -5000, 0, 5000, 10000, 15000, 20000, 25000, 30000], "labelExpr": "datum.value % 10000 ? '' : datum.label", "gridDash": {"condition": {"test": "datum.value % 10000 != 0", "value": [6, 4]}, "value": []}, "gridColor": {"condition": {"test": "datum.value % 10000 != 0", "value": "#d6d6d6"}, "value": "#e3e3e3"}, "gridWidth": {"condition": {"test": "datum.value % 10000 != 0", "value": 1}, "value": 1.5}}}
}
},
{
"width": 426, "height": 181,
"title": "Ch 1: H1:HPI-ETMY_STSINF_B_Z_IN1_DQ",
"data": {"name": "ch1"},
"encoding": {
"x": {"field": "t", "type": "quantitative", "scale": {"domain": [0, 30], "nice": false, "zero": false}, "axis": {"title": null, "values": [2, 5.75, 9.5, 13.25, 17, 20.75, 24.5, 28.25], "labelExpr": "datum.value == 2 ? '1083081645' : datum.value == 9.5 ? '1083081652' : datum.value == 17 ? '1083081660' : datum.value == 24.5 ? '1083081668' : ''", "gridDash": {"condition": {"test": "(datum.value - 2) % 7.5 != 0", "value": [6, 4]}, "value": []}, "gridColor": {"condition": {"test": "(datum.value - 2) % 7.5 != 0", "value": "#d6d6d6"}, "value": "#e3e3e3"}, "gridWidth": {"condition": {"test": "(datum.value - 2) % 7.5 != 0", "value": 1}, "value": 1.5}}},
"y": {"field": "lo", "type": "quantitative", "title": "no_conv.", "scale": {"domain": [200, 700], "nice": false, "zero": false}, "axis": {"title": "no_conv.", "titleX": -45, "titleBaseline": "middle", "format": "d", "values": [200, 250, 300, 350, 400, 450, 500, 550, 600, 650, 700], "labelExpr": "datum.value % 100 ? '' : datum.label", "gridDash": {"condition": {"test": "datum.value % 100 != 0", "value": [6, 4]}, "value": []}, "gridColor": {"condition": {"test": "datum.value % 100 != 0", "value": "#d6d6d6"}, "value": "#e3e3e3"}, "gridWidth": {"condition": {"test": "datum.value % 100 != 0", "value": 1}, "value": 1.5}}},
"y2": {"field": "hi"}
},
"layer": [
{"mark": {"type": "rule", "color": "#ff0000", "strokeWidth": 1.3, "clip": true}},
{"mark": {"type": "rule", "color": "#ff0000", "strokeWidth": 3.6, "clip": true}, "encoding": {"y": {"field": "a", "type": "quantitative", "title": "no_conv."}, "y2": {"field": "b"}}}
]
},
{
"width": 426, "height": 181,
"title": "Ch 6: H1:HPI-ETMY_BLND_L4C_Z_IN1_DQ",
"encoding": {
"x": {"field": "t", "type": "quantitative", "scale": {"domain": [0, 30], "nice": false, "zero": false}, "axis": {"title": null, "values": [2, 5.75, 9.5, 13.25, 17, 20.75, 24.5, 28.25], "labelExpr": "datum.value == 2 ? '1083081645' : datum.value == 9.5 ? '1083081652' : datum.value == 17 ? '1083081660' : datum.value == 24.5 ? '1083081668' : ''", "gridDash": {"condition": {"test": "(datum.value - 2) % 7.5 != 0", "value": [6, 4]}, "value": []}, "gridColor": {"condition": {"test": "(datum.value - 2) % 7.5 != 0", "value": "#d6d6d6"}, "value": "#e3e3e3"}, "gridWidth": {"condition": {"test": "(datum.value - 2) % 7.5 != 0", "value": 1}, "value": 1.5}}},
"y": {"field": "lo", "type": "quantitative", "title": "no_conv.", "scale": {"domain": [-3000, 4000], "nice": false, "zero": false}, "axis": {"title": "no_conv.", "titleX": -58, "titleBaseline": "middle", "format": "d", "values": [-3000, -2500, -2000, -1500, -1000, -500, 0, 500, 1000, 1500, 2000, 2500, 3000, 3500, 4000], "labelExpr": "datum.value % 1000 ? '' : datum.label", "gridDash": {"condition": {"test": "datum.value % 1000 != 0", "value": [6, 4]}, "value": []}, "gridColor": {"condition": {"test": "datum.value % 1000 != 0", "value": "#d6d6d6"}, "value": "#e3e3e3"}, "gridWidth": {"condition": {"test": "datum.value % 1000 != 0", "value": 1}, "value": 1.5}}},
"y2": {"field": "hi"}
},
"layer": [
{"data": {"name": "ch6"}, "mark": {"type": "rule", "color": "#650045", "strokeWidth": 1.3, "clip": true}},
{"data": {"name": "ch6"}, "mark": {"type": "rule", "color": "#650045", "strokeWidth": 3.6, "clip": true}, "encoding": {"y": {"field": "a", "type": "quantitative", "title": "no_conv."}, "y2": {"field": "b"}}},
{"data": {"name": "corners"}, "mark": {"type": "point", "shape": "square", "filled": true, "color": "#222222", "size": 100, "opacity": 1}, "encoding": {"y": {"field": "v", "type": "quantitative", "title": "no_conv."}, "y2": null}}
]
}
],
"config": {
"view": {"fill": "white", "stroke": "#444444", "strokeWidth": 1.5},
"axis": {"ticks": false, "domain": false, "labelOverlap": false},
"axisX": {"labelFont": "Liberation Serif", "labelFontSize": 9, "labelColor": "#111111", "labelPadding": 9},
"axisY": {"labelFont": "Liberation Sans", "labelFontSize": 12.5, "labelColor": "#333333", "labelPadding": 8, "titleFont": "Liberation Sans", "titleFontSize": 18, "titleFontWeight": "normal", "titleColor": "#222222"},
"title": {"font": "Liberation Serif", "fontStyle": "italic", "fontWeight": "normal", "fontSize": 16, "color": "#222222", "frame": "group", "anchor": "middle", "offset": 10}
}
}
